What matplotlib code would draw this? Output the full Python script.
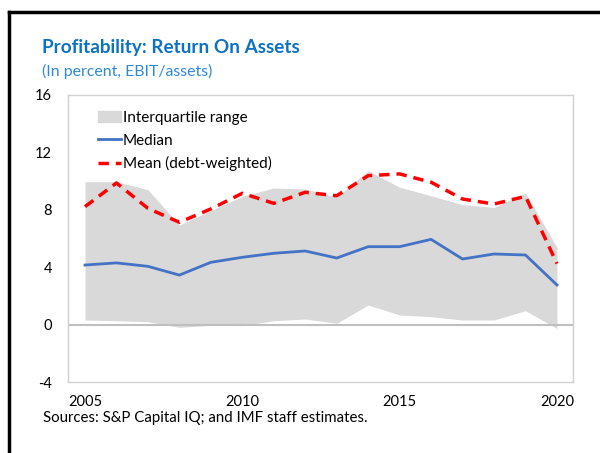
import matplotlib
matplotlib.use('Agg')
import matplotlib.pyplot as plt
from matplotlib.patches import Patch
from matplotlib.lines import Line2D

years = list(range(2005, 2021))
iqr_low = [0.32, 0.27, 0.2, -0.19, -0.05, -0.07, 0.27, 0.39, 0.09, 1.37, 0.67, 0.55, 0.32, 0.32, 0.97, -0.28]
iqr_high = [9.96, 9.96, 9.4, 6.94, 7.94, 8.94, 9.52, 9.45, 8.87, 10.73, 9.57, 8.98, 8.36, 8.17, 9.17, 5.38]
median = [4.15, 4.3, 4.06, 3.45, 4.34, 4.69, 4.97, 5.13, 4.64, 5.43, 5.43, 5.94, 4.57, 4.92, 4.85, 2.76]
mean_dw = [8.22, 9.87, 8.1, 7.13, 8.06, 9.15, 8.45, 9.22, 8.98, 10.38, 10.5, 9.92, 8.75, 8.4, 8.94, 4.25]

plt.rcParams['font.family'] = ['Lato', 'DejaVu Sans']
plt.rcParams['axes.unicode_minus'] = False

fig = plt.figure(figsize=(6, 4.53), dpi=100)
ax = fig.add_axes([68/600, 1-382/453, 505/600, 287/453])

ax.fill_between(years, iqr_low, iqr_high, color='#d9d9d9', lw=0, zorder=1)
ax.axhline(0, color='#bfbfbf', lw=1.5, zorder=2)
ax.plot(years, median, color='#4472c4', lw=2, zorder=3)
ax.plot(years, mean_dw, color='#ff0000', lw=2.5, ls=(0, (3, 2)), zorder=4)

ax.set_xlim(2004.46, 2020.51)
ax.set_ylim(-4, 16)
ax.set_yticks([-4, 0, 4, 8, 12, 16])
ax.set_xticks([2005, 2010, 2015, 2020])
ax.tick_params(length=0, labelsize=10.5, colors='black')
ax.tick_params(axis='x', pad=9)
ax.tick_params(axis='y', pad=11.5)
for s in ax.spines.values():
    s.set_color('#d0d0d0')
    s.set_linewidth(1)

handles = [Patch(color='#d9d9d9'),
           Line2D([], [], color='#4472c4', lw=2),
           Line2D([], [], color='#ff0000', lw=2.5, ls=(0, (3, 2)))]
labels = ['Interquartile range', 'Median', 'Mean (debt-weighted)']
ax.legend(handles, labels, loc='upper left', bbox_to_anchor=(0.048, 0.965), frameon=False,
          fontsize=11, handlelength=1.45, handletextpad=0.15, labelspacing=0.56, borderaxespad=0)

fig.text(42/600, 1-47/453, 'Profitability: Return On Assets', fontsize=13.6, fontweight='bold',
         color='#0b72c4', va='center')
fig.text(42/600, 1-71.5/453, '(In percent, EBIT/assets)', fontsize=11.4, color='#2e8ad6', va='center')
fig.text(43/600, 1-418/453, 'Sources: S&P Capital IQ; and IMF staff estimates.', fontsize=10.8,
         va='center')

# outer frame (clipped by figure edge)
fig.add_artist(Line2D([9/600, 9/600], [0, 1-12/453], color='black', lw=2.5))
fig.add_artist(Line2D([9/600, 1], [1-12/453, 1-12/453], color='black', lw=2.5))

fig.savefig('out.png', dpi=100)
